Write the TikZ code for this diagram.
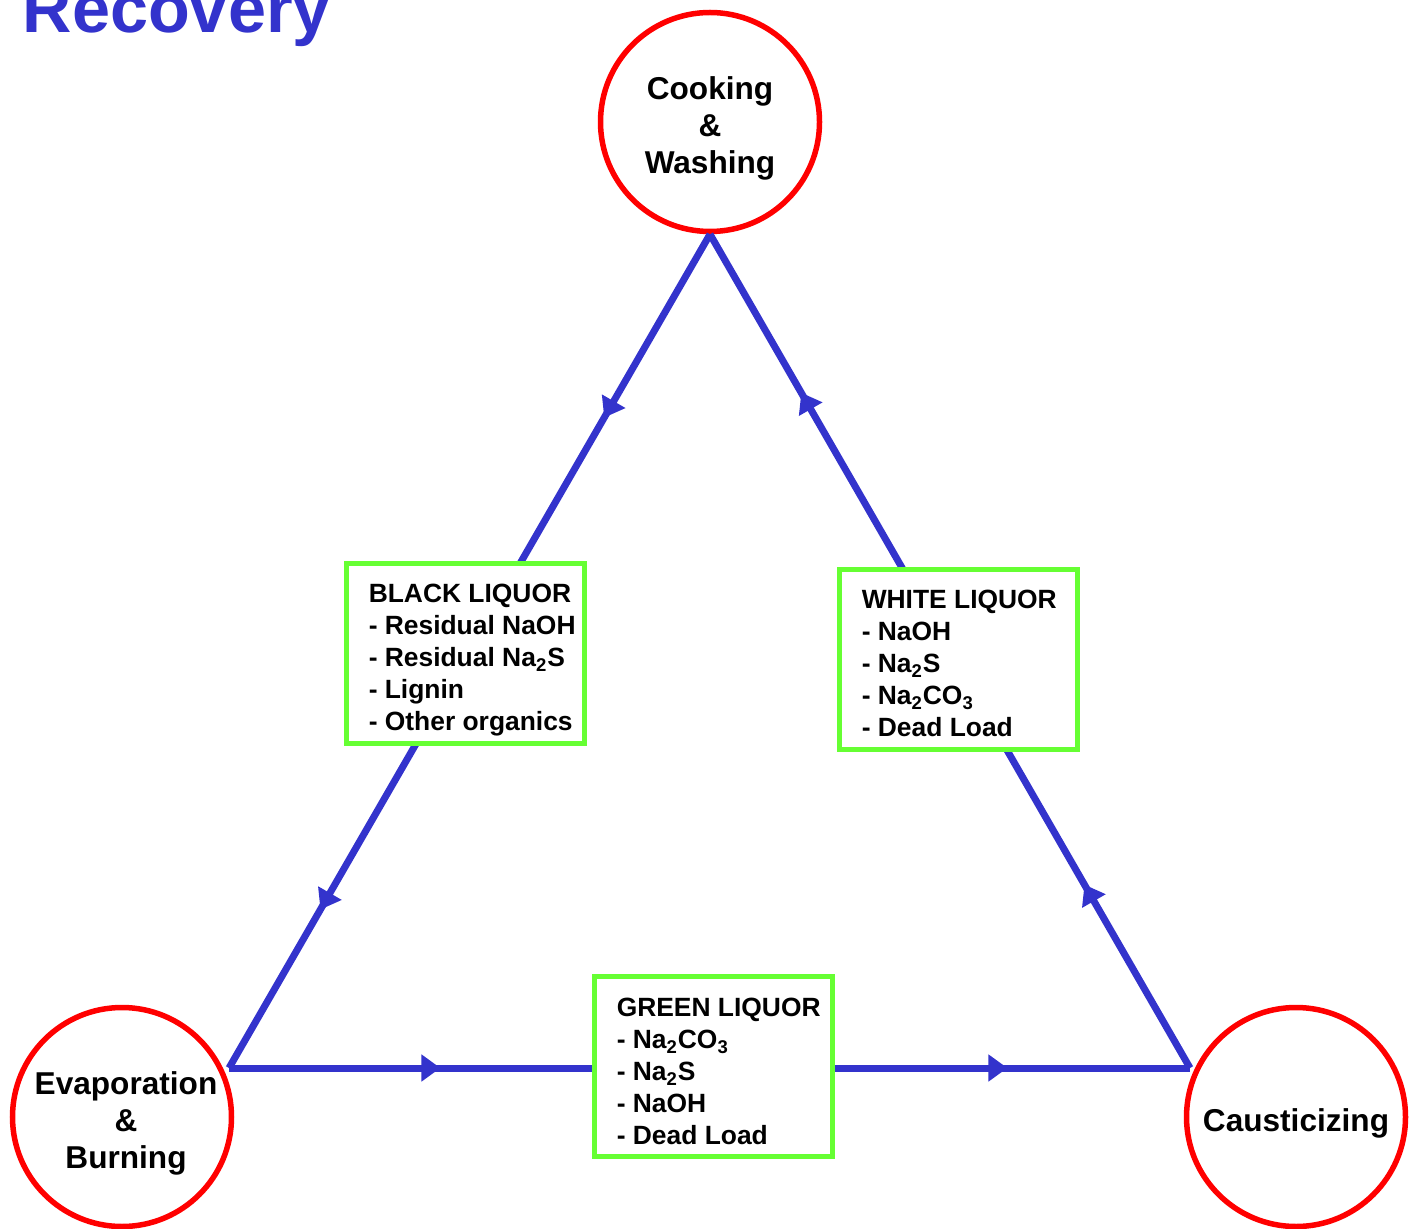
\documentclass[tikz,border=0pt]{standalone}
\usepackage{fontspec}
\setmainfont{Liberation Sans}
\usetikzlibrary{arrows.meta,decorations.markings}

\definecolor{flowblue}{RGB}{51,51,204}
\definecolor{boxgreen}{RGB}{102,255,51}
\definecolor{ringred}{RGB}{255,0,0}

\tikzset{every picture/.style={line width=0.75pt}}
\tikzset{
  stage/.style={circle, draw=ringred, line width=2.75pt, minimum size=109.5pt, inner sep=0pt},
  stagetext/.style={inner sep=0pt, align=center, font=\bfseries\fontsize{15.8}{18.5}\selectfont},
  liquor/.style={rectangle, draw=boxgreen, fill=white, line width=2.5pt, minimum width=119pt,
    minimum height=90pt, inner sep=0pt},
  liquortext/.style={anchor=west, inner sep=0pt, align=left, font=\bfseries\fontsize{13.2}{16}\selectfont},
  flow/.style={draw=flowblue, line width=3.5pt, postaction={decorate},
    decoration={markings,
      mark=at position 0.22 with {\arrow[flowblue]{Triangle[length=9.5pt,width=13pt]}},
      mark=at position 0.81 with {\arrow[flowblue]{Triangle[length=9.5pt,width=13pt]}}}}
}

\begin{document}
\begin{tikzpicture}[x=0.5pt,y=-0.5pt]
\useasboundingbox (0,0) rectangle (1417,1229);

% Title
\node (title) [anchor=base west, inner sep=0pt, text=flowblue, font=\bfseries\fontsize{34.2}{40}\selectfont] at (22,33) {Recovery};

% Stages
\node (cook) [stage] at (710,122) {};
\node (evap) [stage] at (122,1117) {};
\node (caust) [stage] at (1296,1117) {};
\node (cooktext) [stagetext] at ([yshift=-3pt]cook.center) {Cooking\\\&\\Washing};
\node (evaptext) [stagetext] at ([xshift=2pt,yshift=-3pt]evap.center) {Evaporation\\\&\\Burning};
\node (causttext) [stagetext] at ([yshift=-3pt]caust.center) {Causticizing};

\coordinate (vleft) at (229,1068);
\coordinate (vright) at (1190,1068);

% Liquor flows
\draw [flow] (cook.south) -- (vleft);
\draw [flow] (vleft) -- (vright);
\draw [flow] (vright) -- (cook.south);

% Liquor boxes
\node (black) [liquor] at (465.5,653.5) {};
\node (white) [liquor] at (958.5,659) {};
\node (green) [liquor] at (713.5,1066.5) {};
\node (blacklist) [liquortext] at (368,660.5) {BLACK LIQUOR\\- Residual NaOH\\- Residual Na\textsubscript{2}S\\- Lignin\\- Other organics};
\node (whitelist) [liquortext] at (861,663.5) {WHITE LIQUOR\\- NaOH\\- Na\textsubscript{2}S\\- Na\textsubscript{2}CO\textsubscript{3}\\- Dead Load};
\node (greenlist) [liquortext] at (616,1071.5) {GREEN LIQUOR\\- Na\textsubscript{2}CO\textsubscript{3}\\- Na\textsubscript{2}S\\- NaOH\\- Dead Load};

\end{tikzpicture}
\end{document}
